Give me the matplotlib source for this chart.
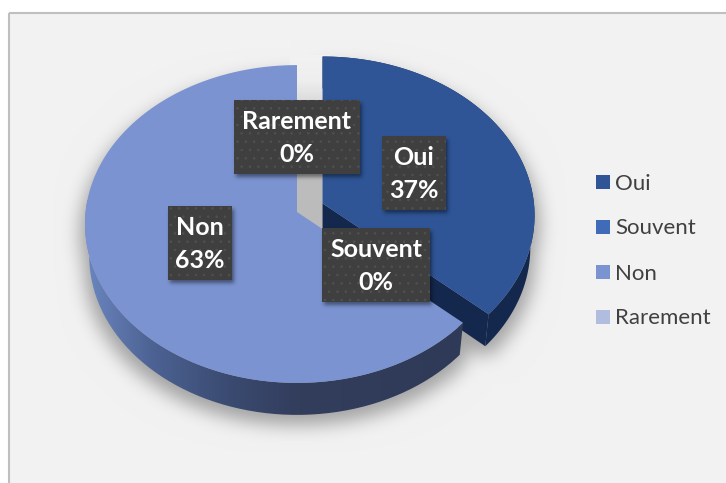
import numpy as np
import matplotlib
matplotlib.use("Agg")
import matplotlib.pyplot as plt
from matplotlib.path import Path
from matplotlib.patches import Polygon, Rectangle, PathPatch
from matplotlib.lines import Line2D

# donnees
categories = ["Oui", "Souvent", "Non", "Rarement"]
valeurs = [36.6, 0, 63.4, 0]
couleurs = ["#2f5597", "#3f6bb8", "#7b93d1", "#b0bddf"]
cotes = ["#14284e", "#1f3a6e", "#333d5c", "#5a6a90"]

plt.rcParams["font.family"] = ["Lato", "DejaVu Sans"]
plt.rcParams["hatch.linewidth"] = 0.6

W, H = 726, 483
CX, CY = 297, 212
RX, RY = 211.4, 158
K = 0.0755
EPAIS = 32
RETRAIT = 0.98
EXPLODE = [28, 0, 0, 0]

fig = plt.figure(figsize=(W / 100, H / 100), dpi=100)
ax = fig.add_axes([0, 0, 1, 1])
ax.axis("off")


def arc(a0, a1, cx, cy, n=200):
    # angle en radians, sens horaire depuis le haut, petite perspective
    t = np.linspace(a0, a1, n)
    u, v = np.sin(t), np.cos(t)
    w = 1 + K * v
    return np.column_stack([cx + RX * u / w, cy - RY * v / w])


def dessous(pts, cx):
    # le bas du disque est un peu plus etroit
    return np.column_stack([cx + (pts[:, 0] - cx) * RETRAIT, pts[:, 1] + EPAIS])


def ombre(masque, sigma):
    x = np.arange(-3 * sigma, 3 * sigma + 1)
    g = np.exp(-x**2 / (2 * sigma**2))
    g = g / g.sum()
    m = np.array([np.convolve(l, g, mode="same") for l in masque])
    m = np.array([np.convolve(c, g, mode="same") for c in m.T]).T
    return m


gx, gy = np.meshgrid(np.arange(W) + 0.5, np.arange(H) + 0.5)
grille = np.column_stack([gx.ravel(), gy.ravel()])


def masque_de(poly):
    return Path(poly).contains_points(grille).reshape(H, W).astype(float)


# parts
total = sum(valeurs)
debut = 0
parts = []
for i, val in enumerate(valeurs):
    ang = 2 * np.pi * val / total
    mil = debut + ang / 2
    cx = CX + EXPLODE[i] * np.sin(mil)
    cy = CY - EXPLODE[i] * np.cos(mil) * RY / RX
    parts.append((debut, debut + ang, cx, cy))
    debut += ang

# ombre portee du camembert
masque = np.zeros((H, W))
for i, (a0, a1, cx, cy) in enumerate(parts):
    if valeurs[i] == 0:
        continue
    bord = arc(a0, a1, cx, cy)
    bas = dessous(bord, cx)
    sommet = np.array([[cx, cy]])
    masque = np.maximum(masque, masque_de(np.vstack([sommet, bord])))
    masque = np.maximum(masque, masque_de(np.vstack([sommet + [0, EPAIS], bas])))
    masque = np.maximum(masque, masque_de(np.vstack([bord, bas[::-1]])))
masque = np.roll(masque, 10, axis=0)
masque = np.maximum(np.roll(masque, 5, axis=1), np.roll(masque, -5, axis=1))

# fond : panneau gris avec l'ombre dedans
fond = (242 / 255) * (1 - 0.33 * ombre(masque, 9))
fond = np.dstack([fond, fond, fond])
ax.imshow(fond, extent=[0, W, H, 0], aspect="auto", zorder=0.2)
ax.add_patch(Rectangle((-5, -5), 14, H + 10, fc="white", ec="none", zorder=0.4))
ax.add_patch(Rectangle((-5, -5), W + 10, 18, fc="white", ec="none", zorder=0.4))
ax.add_patch(Rectangle((9, 13), W, H, fc="none", ec="#bfbfbf", lw=1.5, zorder=0.5))

# ombre dans l'ecart entre les deux parts
deg = np.interp(np.linspace(55, 235, 180), [55, 80, 135, 235], [242, 238, 190, 187]) / 255
ax.imshow(np.dstack([deg, deg, deg]).reshape(180, 1, 3), extent=[290, 330, 235, 55],
          aspect="auto", zorder=2)

for i, (a0, a1, cx, cy) in enumerate(parts):
    if valeurs[i] == 0:
        continue
    bord = arc(a0, a1, cx, cy)
    bas = dessous(bord, cx)
    cote = np.vstack([bord, bas[::-1]])
    z = 3 + i * 0.1
    if categories[i] == "Non":
        # degrade sur le cote
        xs = np.linspace(85, 465, 200)
        stops = [(85, "#6b86c0"), (150, "#4d6394"), (230, "#3a4a70"), (300, "#333d5c"), (465, "#2f3a58")]
        sx = [s[0] for s in stops]
        rgb = np.array([matplotlib.colors.to_rgb(s[1]) for s in stops])
        lig = np.column_stack([np.interp(xs, sx, rgb[:, j]) for j in range(3)]).reshape(1, 200, 3)
        im = ax.imshow(lig, extent=[85, 465, 420, 200], aspect="auto", zorder=z)
        im.set_clip_path(PathPatch(Path(cote), transform=ax.transData))
    else:
        ax.add_patch(Polygon(cote, fc=cotes[i], ec="none", zorder=z))
        # face de la coupe
        ax.add_patch(Polygon([[cx, cy], bord[-1], bas[-1], [cx, cy + EPAIS]], fc=cotes[i], ec="none", zorder=z))

for i, (a0, a1, cx, cy) in enumerate(parts):
    if valeurs[i] == 0:
        continue
    bord = arc(a0, a1, cx, cy)
    ax.add_patch(Polygon(np.vstack([[cx, cy], bord]), fc=couleurs[i], ec="none", zorder=4 + i * 0.1))

# etiquettes
boites = {"Rarement": (234, 100, 126, 74), "Oui": (382, 136, 64, 74),
          "Souvent": (322, 228, 108, 74), "Non": (168, 206, 64, 74)}
m_b = np.zeros((H, W))
for nom in categories:
    x, y, w, h = boites[nom]
    m_b[y + 3:y + h + 3, x + 2:x + w + 2] = 1
rgba = np.zeros((H, W, 4))
rgba[..., 3] = ombre(m_b, 2) * 0.45
ax.imshow(rgba, extent=[0, W, H, 0], aspect="auto", zorder=5)

for nom, val in zip(categories, valeurs):
    x, y, w, h = boites[nom]
    ax.add_patch(Rectangle((x, y), w, h, fc="#3f3f3f", ec="#3f3f3f", lw=0, zorder=6))
    ax.add_patch(Rectangle((x, y), w, h, fc="none", ec="#505050", lw=0, hatch="..", zorder=6.1))
    ax.text(x + w / 2, y + h / 2 + 1, f"{nom}\n{val:.0f}%", color="white", fontsize=18, fontweight="bold",
            ha="center", va="center", linespacing=1.57, zorder=7)

# legende
poignees = [Line2D([], [], ls="", marker="s", ms=10, mfc=c, mec=c, mew=0) for c in couleurs]
ax.legend(poignees, categories, loc="center left", bbox_to_anchor=(592, 251), bbox_transform=ax.transData,
          frameon=False, fontsize=16, labelcolor="#404040", labelspacing=1.125, handlelength=1,
          handletextpad=0.05, borderpad=0, borderaxespad=0)

ax.set_xlim(0, W)
ax.set_ylim(H, 0)
fig.savefig("out.png", dpi=100)
